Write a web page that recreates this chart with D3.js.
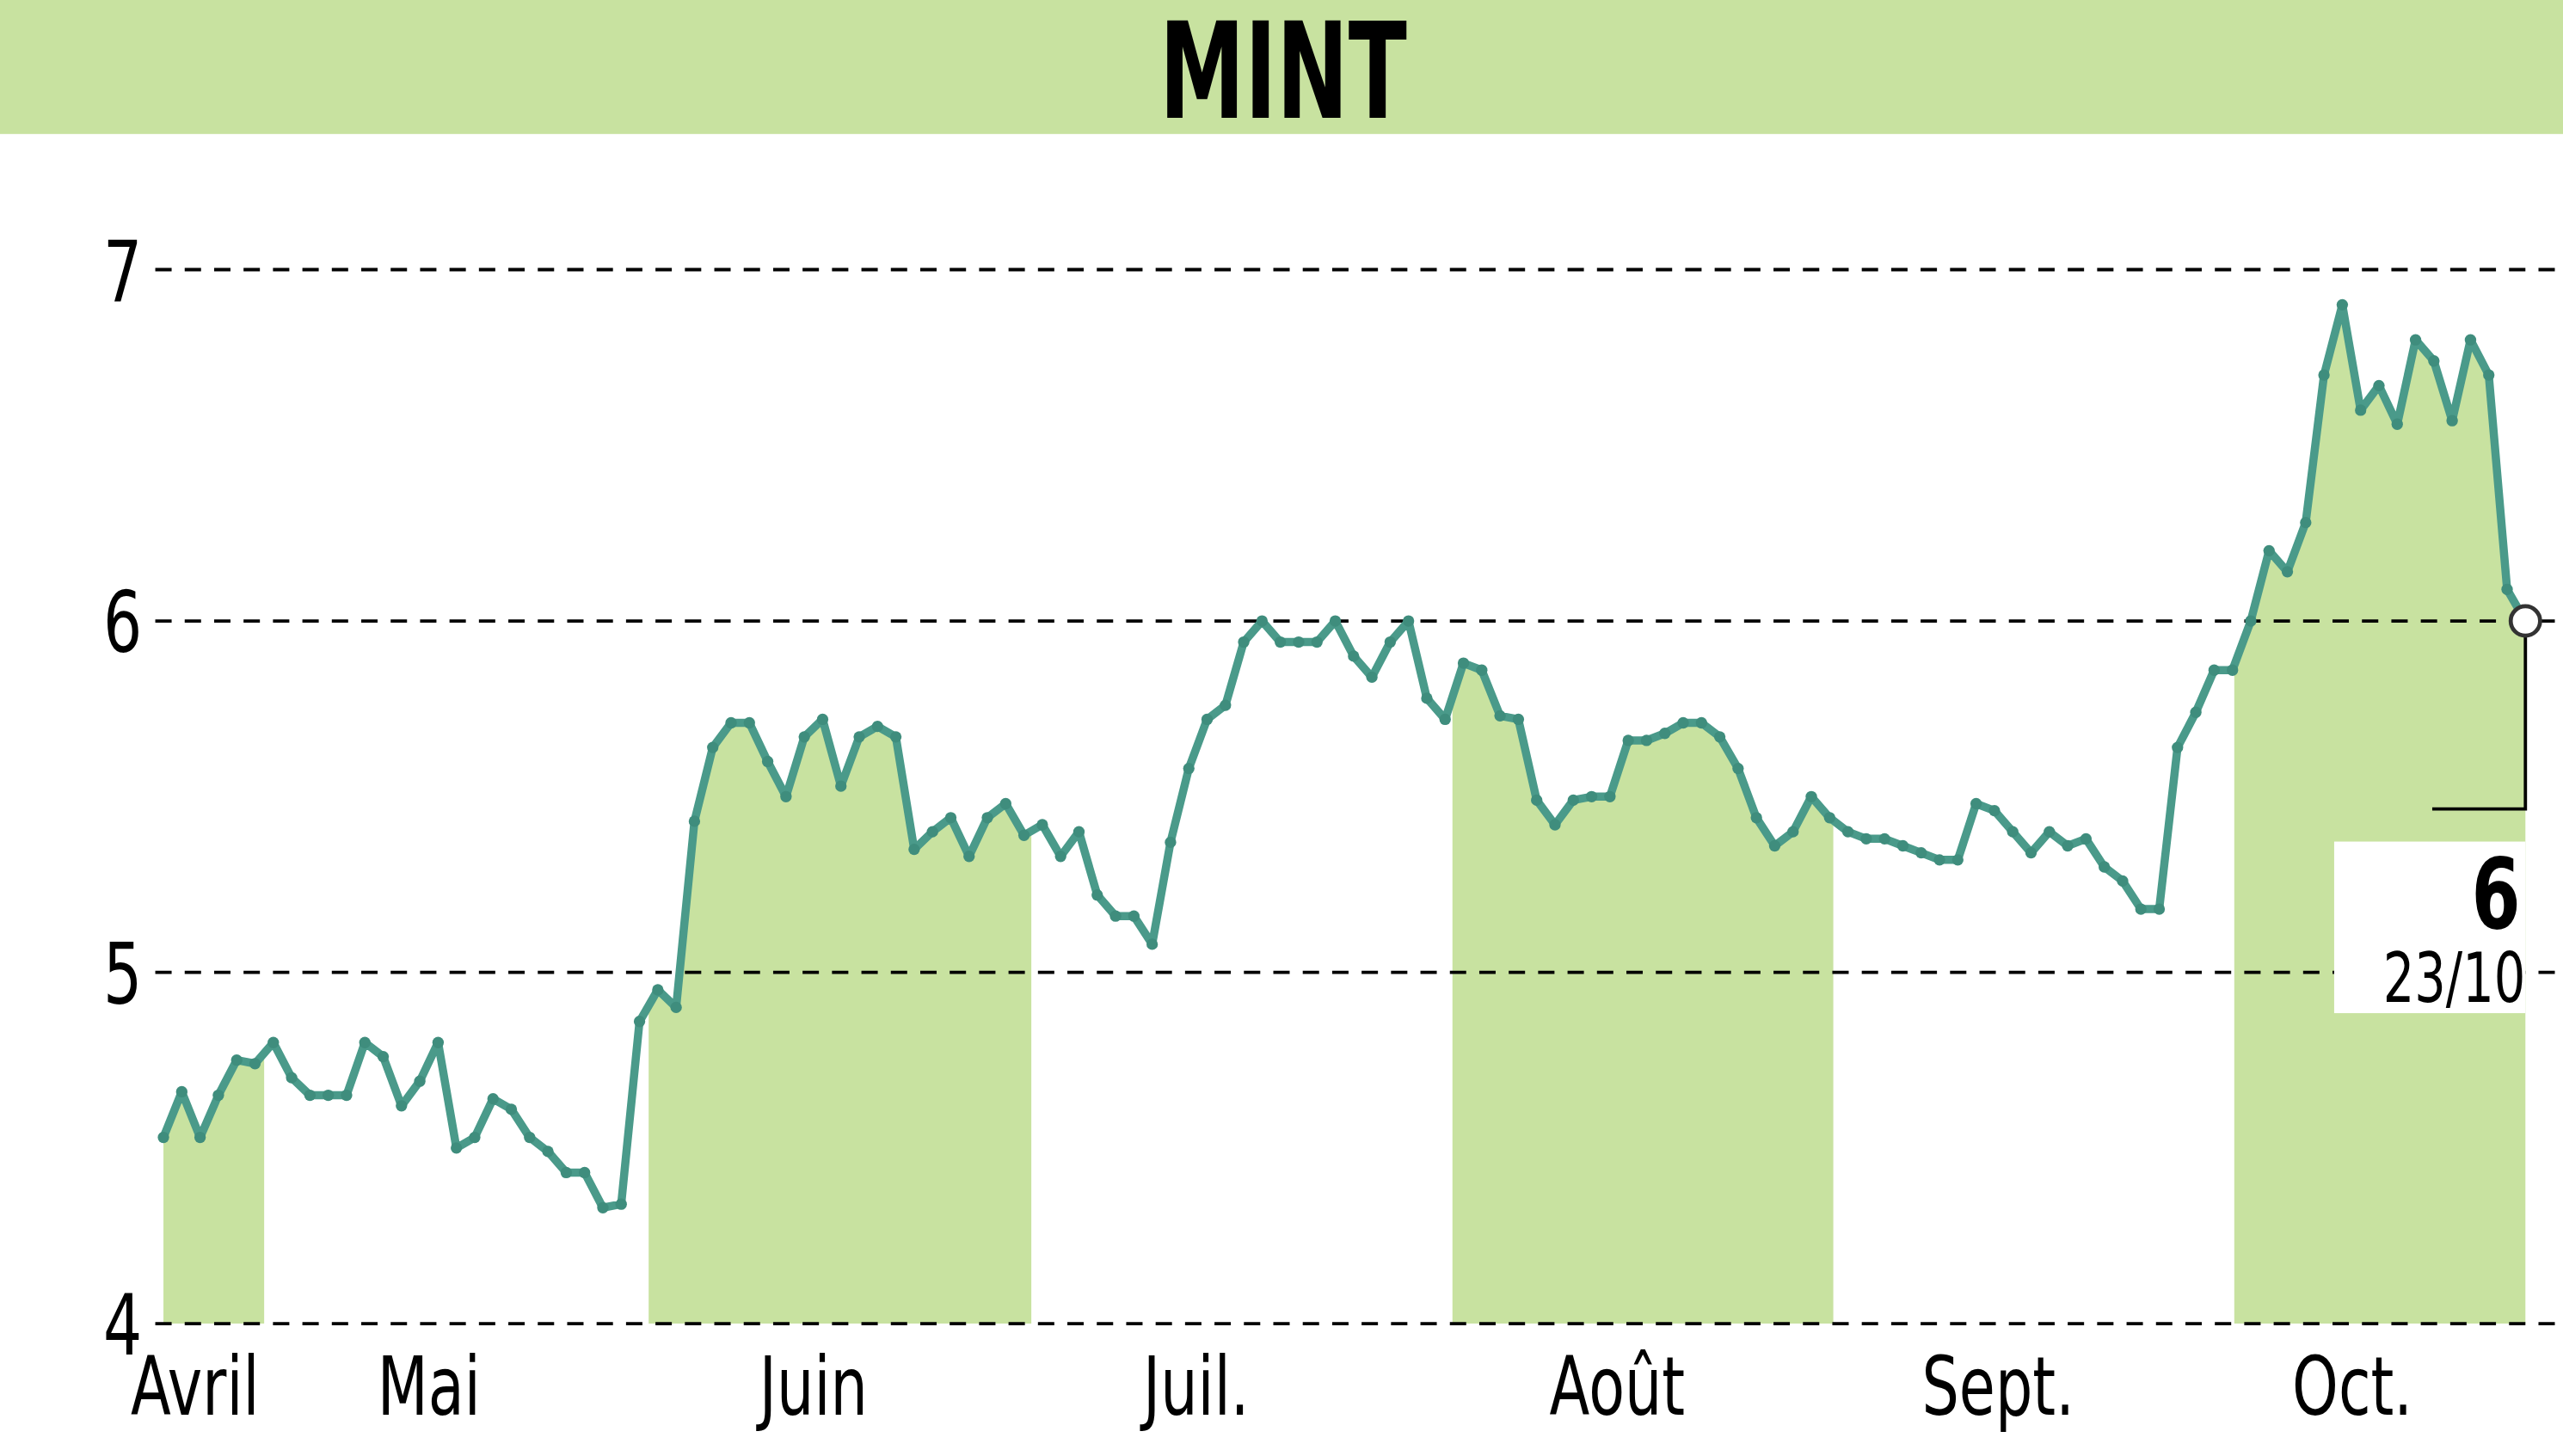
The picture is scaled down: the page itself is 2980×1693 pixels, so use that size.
<!DOCTYPE html>
<html><head><meta charset="utf-8">
<script src="https://cdn.jsdelivr.net/npm/d3@7"></script>
<style>body{margin:0;background:#fff}svg{display:block}</style>
</head><body><div id="chart"></div>
<script>
"use strict";
// closing prices, one per trading day (Apr -> 23/10)
var prices = [4.53,4.66,4.53,4.65,4.75,4.74,4.80,4.70,4.65,4.65,4.65,4.80,4.76,4.62,4.69,4.80,4.50,4.53,4.64,4.61,
  4.53,4.49,4.43,4.43,4.33,4.34,4.86,4.95,4.90,5.43,5.64,5.71,5.71,5.60,5.50,5.67,5.72,5.53,5.67,5.70,
  5.67,5.35,5.40,5.44,5.33,5.44,5.48,5.39,5.42,5.33,5.40,5.22,5.16,5.16,5.08,5.37,5.58,5.72,5.76,5.94,
  6.00,5.94,5.94,5.94,6.00,5.90,5.84,5.94,6.00,5.78,5.72,5.88,5.86,5.73,5.72,5.49,5.42,5.49,5.50,5.50,
  5.66,5.66,5.68,5.71,5.71,5.67,5.58,5.44,5.36,5.40,5.50,5.44,5.40,5.38,5.38,5.36,5.34,5.32,5.32,5.48,
  5.46,5.40,5.34,5.40,5.36,5.38,5.30,5.26,5.18,5.18,5.64,5.74,5.86,5.86,6.00,6.20,6.14,6.28,6.70,6.90,
  6.60,6.67,6.56,6.80,6.74,6.57,6.80,6.70,6.09,6.00];
var months = ["Avril","Mai","Juin","Juil.","Août","Sept.","Oct."];
var monthStarts = [-0.5,5.5,26.5,47.4,70.4,91.2,113.1]; // trading-day index where each month begins
var yTicks = [4,5,6,7];
var lastLabel = "6", lastDate = "23/10";

var W = 1568, H = 891;
var svg = d3.select("#chart").append("svg")
  .attr("width", 2980).attr("height", 1693)
  .attr("viewBox", "0 0 " + W + " " + H).attr("preserveAspectRatio", "none");
var font = "'DejaVu Sans',sans-serif";

var n = prices.length;
var x = d3.scaleLinear().domain([0, n - 1]).range([100, 1545]);
var y = d3.scaleLinear().domain([4, 7]).range([810, 165]);

// condensed text helper
function label(px, py, txt, size, anchor, bold, sx) {
  var t = svg.append("g").attr("transform", "translate(" + px + "," + py + ") scale(" + (sx || 0.72) + ",1)")
    .append("text").attr("text-anchor", anchor || "start").attr("font-family", font)
    .attr("font-size", size).text(txt);
  if (bold) t.attr("font-weight", "bold");
  return t;
}

// title band
svg.append("rect").attr("x", 0).attr("y", 0).attr("width", W).attr("height", 82).attr("fill", "#c8e2a0");
label(785, 72, "MINT", 82, "middle", true, 0.64);

// shaded alternate months
var area = d3.area().x(function(d){ return x(d.i); }).y0(y(4)).y1(function(d){ return y(d.v); });
function interp(t) {
  var i = Math.floor(t), f = t - i;
  if (i >= n - 1) return prices[n - 1];
  return prices[i] * (1 - f) + prices[i + 1] * f;
}
function segment(a, b) {
  var lo = Math.max(0, a), hi = Math.min(n - 1, b);
  var pts = [{i: lo, v: interp(lo)}];
  for (var i = Math.ceil(lo); i <= Math.floor(hi); i++) pts.push({i: i, v: prices[i]});
  pts.push({i: hi, v: interp(hi)});
  return pts;
}
[0, 2, 4, 6].forEach(function(m) {
  var end = m + 1 < monthStarts.length ? monthStarts[m + 1] : n - 1;
  svg.append("path").datum(segment(monthStarts[m], end)).attr("d", area).attr("fill", "#c8e2a0");
});

// grid
yTicks.forEach(function(t) {
  svg.append("line").attr("x1", 95).attr("x2", W).attr("y1", y(t)).attr("y2", y(t))
    .attr("stroke", "#000").attr("stroke-width", 2).attr("stroke-dasharray", "10,8");
  label(75, y(t) + 19, t, 52, "middle");
});

// month labels
months.forEach(function(m, k) {
  if (k === 0) { label(80, 866, m, 50, "start"); return; }
  var c = k + 1 < monthStarts.length ? monthStarts[k] + 9 : (monthStarts[k] + n - 1) / 2 - 1.5;
  label(x(c), 866, m, 50, "middle");
});

// price line
var line = d3.line().x(function(d, i){ return x(i); }).y(function(d){ return y(d); });
svg.append("path").datum(prices).attr("d", line).attr("fill", "none")
  .attr("stroke", "#4a9a8a").attr("stroke-width", 5).attr("stroke-linejoin", "round");
svg.selectAll("circle.pt").data(prices).enter().append("circle").attr("class", "pt")
  .attr("cx", function(d, i){ return x(i); }).attr("cy", function(d){ return y(d); })
  .attr("r", 3.5).attr("fill", "#3f8d7d");

// last value callout
var lx = x(n - 1), ly = y(prices[n - 1]);
svg.append("path").attr("d", "M" + lx + "," + ly + "V495H1488").attr("fill", "none")
  .attr("stroke", "#000").attr("stroke-width", 2);
svg.append("rect").attr("x", 1428).attr("y", 515).attr("width", 117).attr("height", 105).attr("fill", "#fff");
label(1542, 568, lastLabel, 60, "end", true);
label(1545, 613, lastDate, 42, "end");
svg.append("circle").attr("cx", lx).attr("cy", ly).attr("r", 9).attr("fill", "#fff")
  .attr("stroke", "#333").attr("stroke-width", 2.5);
</script></body></html>
